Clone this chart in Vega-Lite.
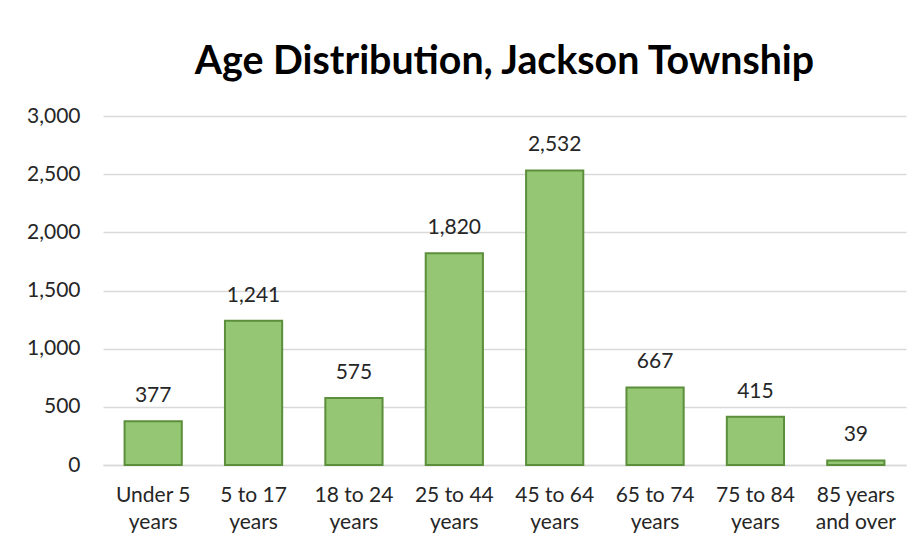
{
  "$schema": "https://vega.github.io/schema/vega-lite/v6.json",
  "width": 803,
  "height": 349,
  "autosize": {"type": "none"},
  "padding": {"left": 103, "top": 116, "right": 18, "bottom": 83},
  "background": "white",
  "title": {
    "text": "Age Distribution, Jackson Township",
    "font": "Lato",
    "fontSize": 39.3,
    "fontWeight": "bold",
    "color": "#000000",
    "anchor": "middle",
    "baseline": "alphabetic",
    "offset": -8
  },
  "data": {
    "values": [
      {"age": "Under 5 years", "people": 377},
      {"age": "5 to 17 years", "people": 1241},
      {"age": "18 to 24 years", "people": 575},
      {"age": "25 to 44 years", "people": 1820},
      {"age": "45 to 64 years", "people": 2532},
      {"age": "65 to 74 years", "people": 667},
      {"age": "75 to 84 years", "people": 415},
      {"age": "85 years and over", "people": 39}
    ]
  },
  "encoding": {
    "x": {
      "field": "age",
      "type": "nominal",
      "sort": null,
      "scale": {"paddingInner": 0.43, "paddingOuter": 0.215},
      "axis": {
        "title": null,
        "labelAngle": 0,
        "labelFont": "Lato",
        "labelFontSize": 21,
        "labelColor": "#262626",
        "labelPadding": 19,
        "labelLineHeight": 27,
        "labelExpr": "datum.label == '85 years and over' ? ['85 years', 'and over'] : [replace(datum.label, ' years', ''), 'years']",
        "ticks": false,
        "domainColor": "#d9d9d9",
        "domainWidth": 1.5
      }
    },
    "y": {
      "field": "people",
      "type": "quantitative",
      "scale": {"domain": [0, 3000]},
      "axis": {
        "title": null,
        "values": [0, 500, 1000, 1500, 2000, 2500, 3000],
        "format": ",d",
        "labelFont": "Lato",
        "labelFontSize": 21,
        "labelColor": "#262626",
        "labelPadding": 23,
        "ticks": false,
        "domain": false,
        "gridColor": "#d9d9d9",
        "gridWidth": 1.5
      }
    }
  },
  "layer": [
    {
      "mark": {"type": "bar", "color": "#95c673", "stroke": "#5b8f3b", "strokeWidth": 2}
    },
    {
      "mark": {"type": "text", "baseline": "alphabetic", "dy": -19, "font": "Lato", "fontSize": 21, "color": "#262626"},
      "encoding": {"text": {"field": "people", "type": "quantitative", "format": ",d"}}
    }
  ],
  "config": {"view": {"stroke": null}}
}
